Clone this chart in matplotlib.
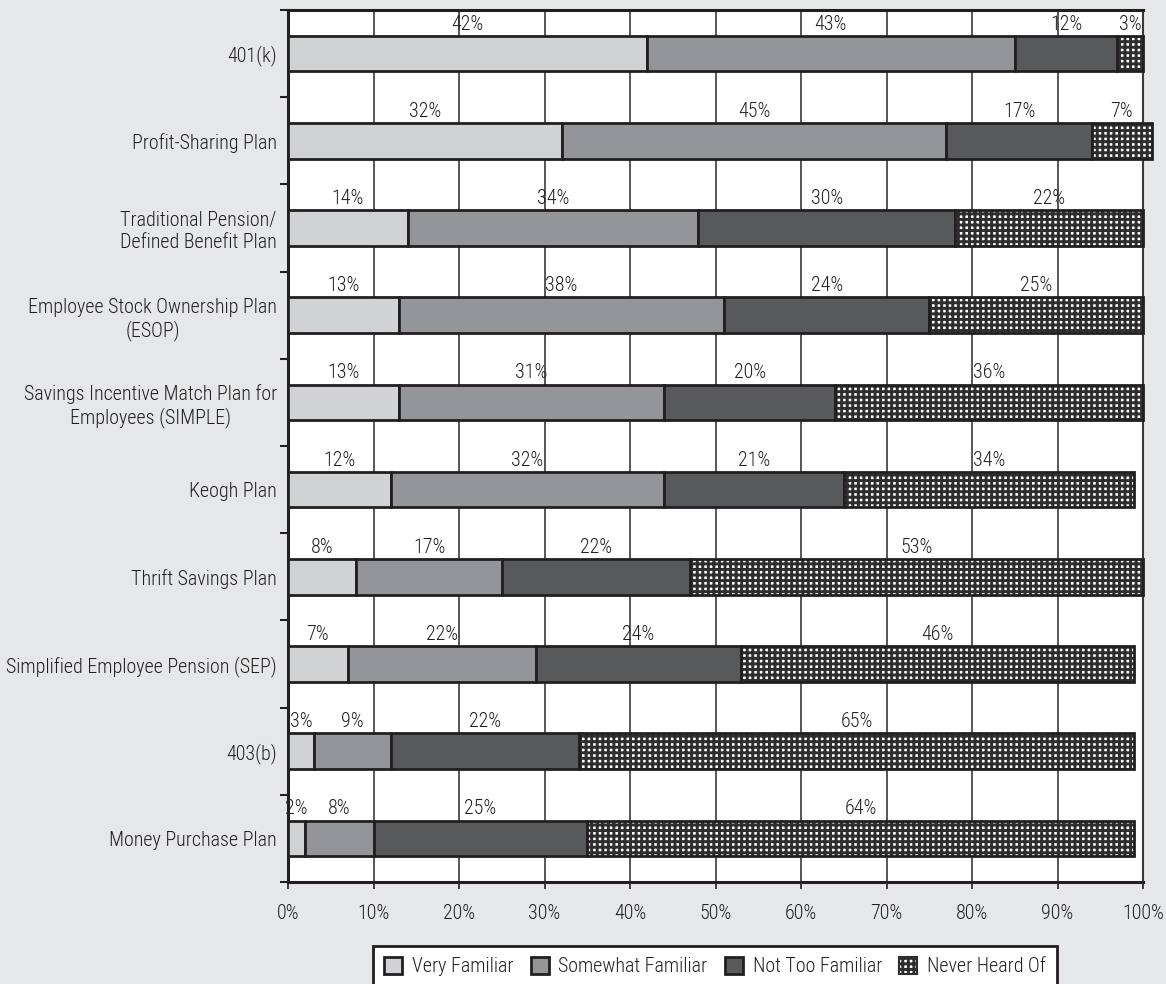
import numpy as np
import matplotlib
matplotlib.use("Agg")
from matplotlib import pyplot as plt
from matplotlib.patches import Patch

plt.rcParams["font.family"] = ["Roboto Condensed", "Archivo Narrow", "Liberation Sans"]
plt.rcParams["font.weight"] = "light"
plt.rcParams["hatch.linewidth"] = 2.1

# ------ data

plans = ["401(k)", "Profit-Sharing Plan", "Traditional Pension/\nDefined Benefit Plan",
         "Employee Stock Ownership Plan\n(ESOP)", "Savings Incentive Match Plan for\nEmployees (SIMPLE)",
         "Keogh Plan", "Thrift Savings Plan", "Simplified Employee Pension (SEP)",
         "403(b)", "Money Purchase Plan"]
very_familiar = [42, 32, 14, 13, 13, 12, 8, 7, 3, 2]
somewhat_familiar = [43, 45, 34, 38, 31, 32, 17, 22, 9, 8]
not_too_familiar = [12, 17, 30, 24, 20, 21, 22, 24, 22, 25]
never_heard = [3, 7, 22, 25, 36, 34, 53, 46, 65, 64]

series_names = ["Very Familiar", "Somewhat Familiar", "Not Too Familiar", "Never Heard Of"]
colors = ["#d1d2d4", "#939598", "#58595b", "white"]

# ------

bg = "#e6e7e8"
edge = "#231f20"
hatch_col = "#2e2e2e"
fs = 14.4

fig = plt.figure(figsize=(11.66, 9.84), dpi=100, facecolor=bg)
ax = fig.add_axes([288 / 1166, 1 - 882 / 984, (1143 - 288) / 1166, (882 - 10) / 984])
ax.set_facecolor("white")

y = np.arange(len(plans))
h = 0.41
left = np.zeros(len(plans))
for vals, col, name in zip([very_familiar, somewhat_familiar, not_too_familiar, never_heard],
                           colors, series_names):
    vals = np.array(vals, dtype=float)
    if name == "Never Heard Of":
        ax.barh(y, vals, left=left, height=h, color="white", edgecolor=hatch_col,
                hatch="+++", lw=0, clip_on=False, zorder=3)
        ax.barh(y, vals, left=left, height=h, fill=False, edgecolor=edge, lw=2,
                clip_on=False, zorder=4)
    else:
        ax.barh(y, vals, left=left, height=h, color=col, edgecolor=edge, lw=2,
                clip_on=False, zorder=3)
    for yi, l, v in zip(y, left, vals):
        ax.text(l + v / 2, yi - 0.275, f"{int(v)}%", ha="center", va="baseline",
                fontsize=fs, color="#231f20", zorder=5)
    left += vals

ax.set_xlim(0, 100)
ax.set_ylim(len(plans) - 0.5, -0.5)
ax.set_xticks(np.arange(0, 101, 10))
ax.set_xticklabels([f"{t}%" for t in range(0, 101, 10)], fontsize=fs, color="#231f20")
ax.xaxis.grid(True, color="#3a3a3a", lw=1.2, zorder=1)
ax.set_axisbelow(True)

ax.set_yticks(y)
ax.set_yticklabels(plans, fontsize=fs, color="#231f20", multialignment="center")
ax.set_yticks(np.arange(-0.5, len(plans), 1), minor=True)
ax.tick_params(axis="y", which="major", length=0, pad=8)
ax.tick_params(axis="y", which="minor", length=6, width=1.5, color=edge)
ax.tick_params(axis="x", length=5, width=1.2, color=edge, pad=11)

for side in ["left", "bottom", "top"]:
    ax.spines[side].set_linewidth(2.2)
    ax.spines[side].set_color(edge)
ax.spines["right"].set_linewidth(1.5)
ax.spines["right"].set_color("#3a3a3a")

handles = [Patch(facecolor=colors[0], edgecolor=edge, lw=2),
           Patch(facecolor=colors[1], edgecolor=edge, lw=2),
           Patch(facecolor=colors[2], edgecolor=edge, lw=2),
           Patch(facecolor="white", edgecolor=hatch_col, hatch="+++", lw=1.5)]
leg = fig.legend(handles, series_names, loc="upper left",
                 bbox_to_anchor=(373 / 1166, 1 - 946 / 984), borderaxespad=0,
                 ncol=4, fontsize=fs,
                 frameon=True, fancybox=False, edgecolor=edge, framealpha=1,
                 handlelength=0.9, handleheight=0.9, handletextpad=0.5,
                 columnspacing=0.85, borderpad=0.55)
leg.get_frame().set_linewidth(2)
for t in leg.get_texts():
    t.set_color("#231f20")

fig.savefig("out.png", dpi=100, facecolor=bg)
